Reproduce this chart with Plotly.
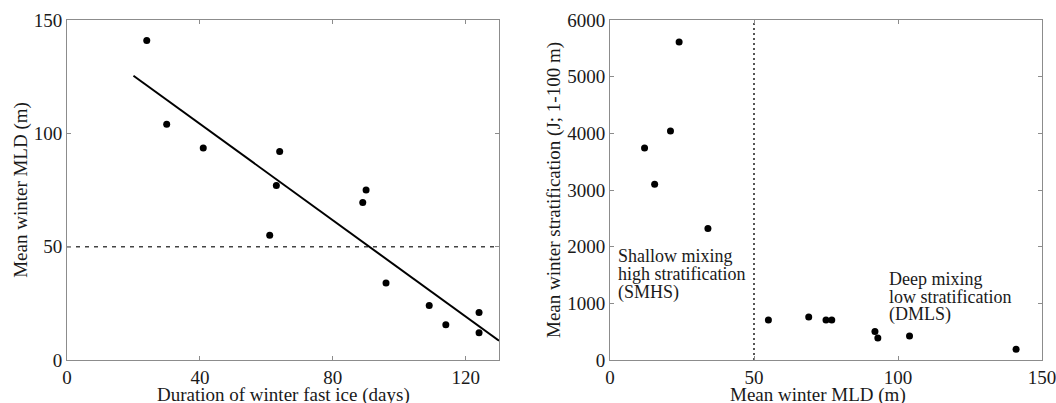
import plotly.graph_objects as go

# Left panel: fast ice duration vs MLD
ice_days = [24, 30, 41, 64, 63, 90, 89, 61, 96, 109, 114, 124, 124]
mld_left = [141, 104, 93.5, 92, 77, 75, 69.5, 55, 34, 24, 15.5, 21, 12]
fit_x = [20, 130]
fit_y = [125.4, 8.5]
mld_threshold = 50

# Right panel: MLD vs stratification
mld_right = [24, 21, 12, 15.5, 34, 55, 69, 75, 77, 92, 93, 104, 141]
strat = [5610, 4040, 3740, 3100, 2320, 705, 760, 705, 705, 505, 390, 425, 190]

left_xticks = [0, 40, 80, 120]
left_yticks = [0, 50, 100, 150]
right_xticks = [0, 50, 100, 150]
right_yticks = [0, 1000, 2000, 3000, 4000, 5000, 6000]

left_xtitle = "Duration of winter fast ice (days)"
left_ytitle = "Mean winter MLD (m)"
right_xtitle = "Mean winter MLD (m)"
right_ytitle = "Mean winter stratification (J; 1-100 m)"

smhs_lines = ["Shallow mixing", "high stratification", "(SMHS)"]
smhs_x = 2.1
smhs_y = [1835, 1518, 1200]
dmls_lines = ["Deep mixing", "low stratification", "(DMLS)"]
dmls_x = 96.3
dmls_y = [1429, 1118, 800]

FONT = "Liberation Serif"
TXT = "#1a1a1a"
AX = "#8c8c8c"
FS = 19
W, H = 1056, 403

fig = go.Figure()

fig.add_trace(go.Scatter(x=[0, 130], y=[mld_threshold, mld_threshold], mode="lines",
                         line=dict(color="#444", width=1.5, dash="4px,5px"),
                         xaxis="x", yaxis="y", showlegend=False))
fig.add_trace(go.Scatter(x=fit_x, y=fit_y, mode="lines",
                         line=dict(color="black", width=2),
                         xaxis="x", yaxis="y", showlegend=False))
fig.add_trace(go.Scatter(x=ice_days, y=mld_left, mode="markers",
                         marker=dict(color="black", size=7),
                         xaxis="x", yaxis="y", showlegend=False))

fig.add_trace(go.Scatter(x=[mld_threshold, mld_threshold], y=[0, 6000], mode="lines",
                         line=dict(color="#555", width=2, dash="2px,3px"),
                         xaxis="x2", yaxis="y2", showlegend=False))
fig.add_trace(go.Scatter(x=mld_right, y=strat, mode="markers",
                         marker=dict(color="black", size=7),
                         xaxis="x2", yaxis="y2", showlegend=False))

common = dict(showline=True, linecolor=AX, linewidth=1, mirror="ticks",
              ticks="inside", ticklen=4, tickcolor=AX, showgrid=False,
              zeroline=False, automargin=False, ticklabeloverflow="allow",
              tickfont=dict(family=FONT, size=FS, color=TXT))

yd = [43 / H, 383 / H]
fig.update_layout(
    width=W, height=H,
    margin=dict(l=0, r=0, t=0, b=0),
    paper_bgcolor="white", plot_bgcolor="white",
    font=dict(family=FONT, color=TXT, size=FS),
    xaxis=dict(domain=[67 / W, 499 / W], range=[0, 130], tickvals=left_xticks,
               anchor="y", **common),
    yaxis=dict(domain=yd, range=[0, 150], tickvals=left_yticks,
               title=dict(text=left_ytitle, standoff=1,
                          font=dict(family=FONT, size=FS, color=TXT)),
               anchor="x", **common),
    xaxis2=dict(domain=[610 / W, 1042 / W], range=[0, 150], tickvals=right_xticks,
                anchor="y2", **common),
    yaxis2=dict(domain=yd, range=[0, 6000], tickvals=right_yticks,
                title=dict(text=right_ytitle, standoff=1,
                           font=dict(family=FONT, size=FS, color=TXT)),
                anchor="x2", **common),
)

# x-axis titles placed below the tick labels
fig.add_annotation(x=283 / W, y=(H - 395) / H, xref="paper", yref="paper",
                   text=left_xtitle, showarrow=False, xanchor="center", yanchor="middle",
                   font=dict(family=FONT, size=FS, color=TXT))
fig.add_annotation(x=818 / W, y=(H - 395) / H, xref="paper", yref="paper",
                   text=right_xtitle, showarrow=False, xanchor="center", yanchor="middle",
                   font=dict(family=FONT, size=FS, color=TXT))

for txt, yy in zip(smhs_lines, smhs_y):
    fig.add_annotation(x=smhs_x, y=yy, xref="x2", yref="y2", text=txt, showarrow=False,
                       xanchor="left", yanchor="middle",
                       font=dict(family=FONT, size=18, color=TXT))
for txt, yy in zip(dmls_lines, dmls_y):
    fig.add_annotation(x=dmls_x, y=yy, xref="x2", yref="y2", text=txt, showarrow=False,
                       xanchor="left", yanchor="middle",
                       font=dict(family=FONT, size=18, color=TXT))

fig.write_html("out.html")
